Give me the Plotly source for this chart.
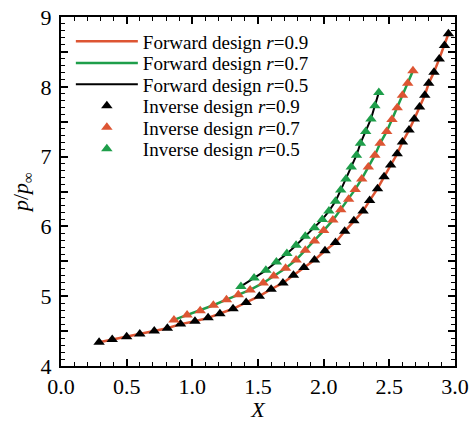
import plotly.graph_objects as go

# r = 0.9
x09 = [0.29,0.39,0.50,0.60,0.71,0.81,0.91,1.02,1.12,1.21,1.31,1.41,1.51,1.60,1.69,1.77,1.85,1.93,2.01,2.09,2.16,2.23,2.30,2.35,2.41,2.46,2.51,2.56,2.60,2.65,2.69,2.73,2.77,2.80,2.84,2.88,2.92,2.95]
y09 = [4.34,4.38,4.42,4.46,4.50,4.54,4.60,4.64,4.69,4.75,4.82,4.91,5.00,5.10,5.19,5.30,5.41,5.52,5.65,5.77,5.93,6.08,6.22,6.37,6.54,6.71,6.88,7.04,7.21,7.38,7.54,7.71,7.88,8.05,8.21,8.40,8.59,8.76]
# r = 0.7
x07 = [0.86,0.96,1.06,1.16,1.26,1.35,1.44,1.54,1.62,1.71,1.79,1.86,1.93,2.00,2.07,2.13,2.19,2.24,2.29,2.34,2.39,2.43,2.48,2.52,2.56,2.60,2.64,2.68]
y07 = [4.66,4.73,4.79,4.87,4.95,5.02,5.09,5.19,5.29,5.40,5.52,5.66,5.79,5.94,6.09,6.24,6.39,6.53,6.68,6.85,7.02,7.19,7.36,7.53,7.70,7.88,8.05,8.23]
# r = 0.5
x05 = [1.37,1.47,1.56,1.64,1.72,1.79,1.86,1.93,1.99,2.04,2.09,2.13,2.17,2.21,2.25,2.28,2.32,2.36,2.39,2.42]
y05 = [5.14,5.26,5.37,5.49,5.61,5.73,5.86,5.98,6.10,6.22,6.36,6.52,6.68,6.85,7.02,7.19,7.36,7.54,7.73,7.92]

x_ticks = [0.0, 0.5, 1.0, 1.5, 2.0, 2.5, 3.0]
x_ticktext = ["0.0", "0.5", "1.0", "1.5", "2.0", "2.5", "3.0"]
y_ticks = [4, 4.5, 5, 5.5, 6, 6.5, 7, 7.5, 8, 8.5, 9]
y_ticktext = ["4", "", "5", "", "6", "", "7", "", "8", "", "9"]

RED = "#DD5533"
GREEN = "#1E9E4A"
BLACK = "#000000"
FONT = "Liberation Serif"

legend_names = ["legend", "legend2", "legend3", "legend4", "legend5", "legend6"]

fig = go.Figure()
fig.add_trace(go.Scatter(x=x09, y=y09, mode="lines", line=dict(color=RED, width=2.5),
                         name="Forward design <i>r</i>=0.9", legend="legend"))
fig.add_trace(go.Scatter(x=x07, y=y07, mode="lines", line=dict(color=GREEN, width=2.5),
                         name="Forward design <i>r</i>=0.7", legend="legend2"))
fig.add_trace(go.Scatter(x=x05, y=y05, mode="lines", line=dict(color=BLACK, width=2),
                         name="Forward design <i>r</i>=0.5", legend="legend3"))
fig.add_trace(go.Scatter(x=x09, y=y09, mode="markers",
                         marker=dict(symbol="triangle-up", size=10, color=BLACK),
                         name="Inverse design <i>r</i>=0.9", legend="legend4"))
fig.add_trace(go.Scatter(x=x07, y=y07, mode="markers",
                         marker=dict(symbol="triangle-up", size=10, color=RED),
                         name="Inverse design <i>r</i>=0.7", legend="legend5"))
fig.add_trace(go.Scatter(x=x05, y=y05, mode="markers",
                         marker=dict(symbol="triangle-up", size=10, color=GREEN),
                         name="Inverse design <i>r</i>=0.5", legend="legend6"))

axis_common = dict(
    showline=True, linecolor="black", linewidth=2, mirror="allticks",
    ticks="inside", ticklen=7, tickwidth=1.5, tickcolor="black",
    showgrid=False, zeroline=False, automargin=False,
    tickfont=dict(family=FONT, size=22, color="black"),
)

fig.update_xaxes(range=[0, 3], tickmode="array", tickvals=x_ticks, ticktext=x_ticktext,
                 minor=dict(dtick=0.1, ticks="inside", ticklen=4, tickcolor="black", tickwidth=1),
                 title=dict(text="<i>X</i>", font=dict(family=FONT, size=22, color="black"), standoff=14),
                 ticklabelstandoff=0,
                 **axis_common)
fig.update_yaxes(range=[4, 9], tickmode="array", tickvals=y_ticks, ticktext=y_ticktext,
                 minor=dict(dtick=0.1, ticks="inside", ticklen=4, tickcolor="black", tickwidth=1),
                 title=dict(text="<i>p</i>/<i>p</i><sub>∞</sub>", font=dict(family=FONT, size=22, color="black"), standoff=6),
                 ticklabelstandoff=3,
                 **axis_common)

row_y = [0.930, 0.868, 0.807, 0.745, 0.684, 0.622]
leg_layout = {}
for name, yy in zip(legend_names, row_y):
    leg_layout[name] = dict(x=0.025, y=yy, xanchor="left", yanchor="middle",
                            bgcolor="rgba(0,0,0,0)",
                            font=dict(family=FONT, size=19, color="black"),
                            itemwidth=62)

fig.update_layout(
    width=470, height=422,
    margin=dict(l=61, r=15, t=17, b=56),
    paper_bgcolor="white", plot_bgcolor="white",
    font=dict(family=FONT, color="black"),
    showlegend=True,
    **leg_layout,
)

fig.write_html("out.html", config={"displayModeBar": False},
               post_script="document.body.style.margin='0px';")
